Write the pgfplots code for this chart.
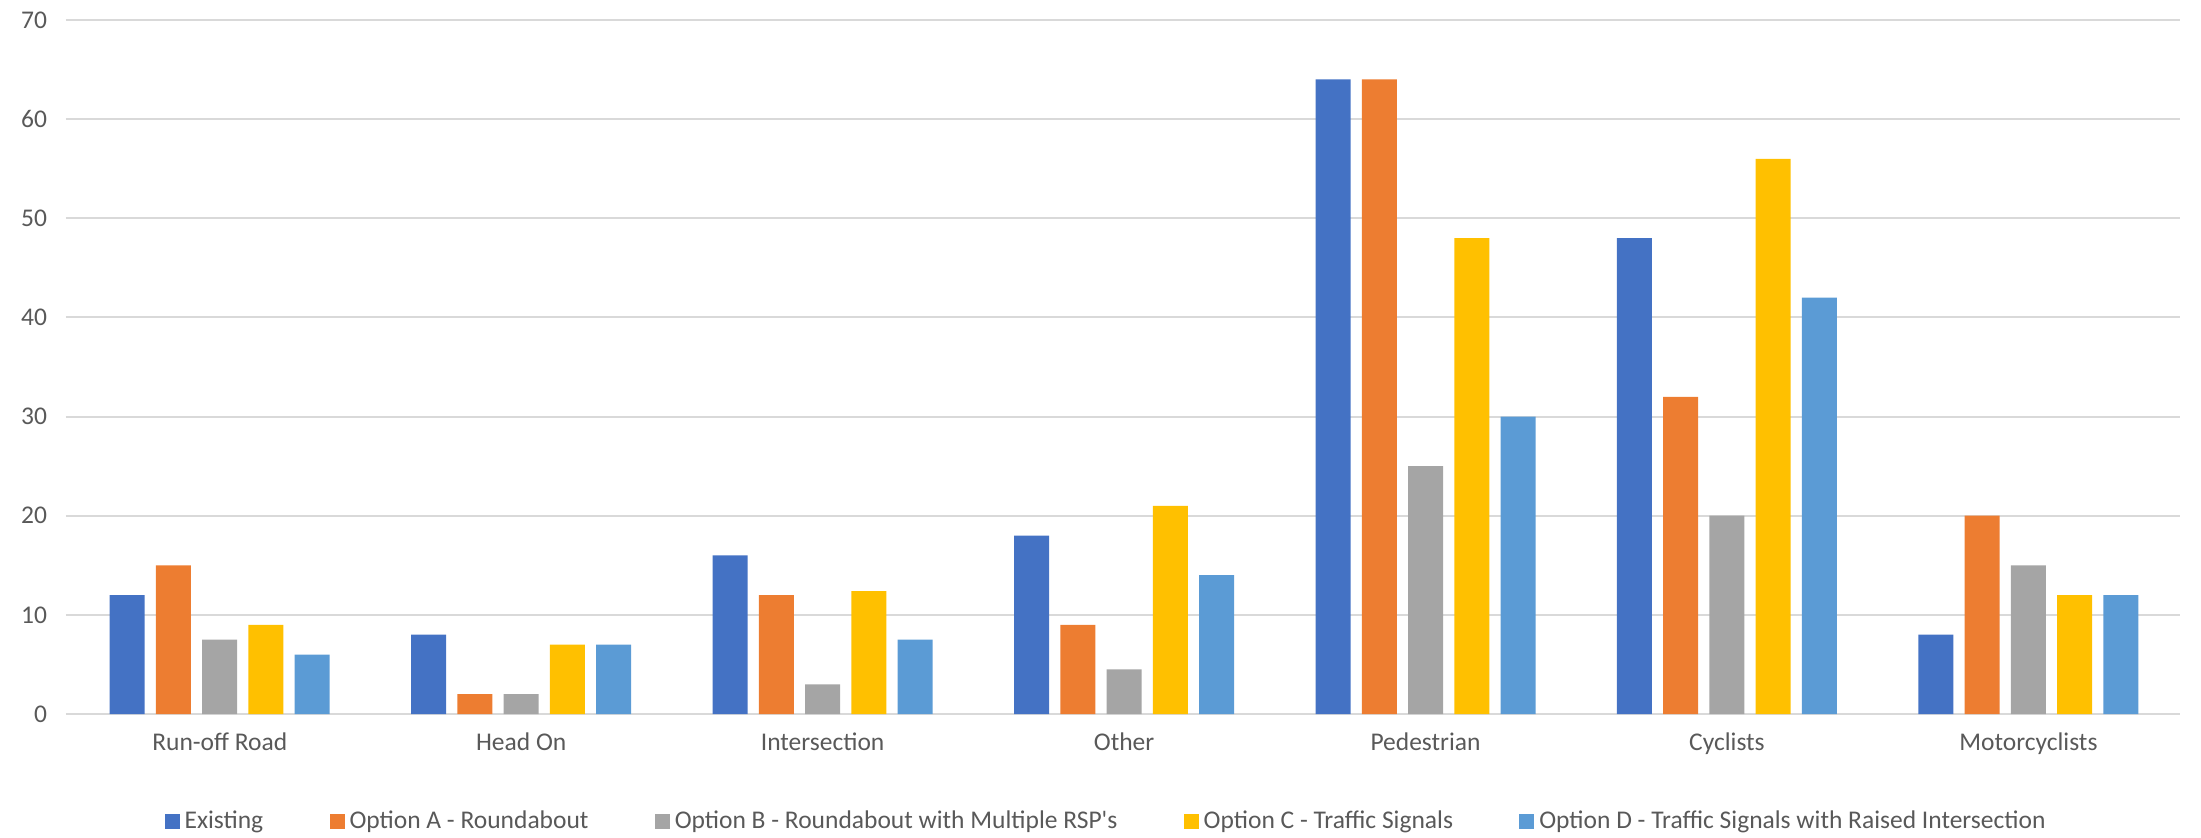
\documentclass[border=0pt]{standalone}
\usepackage{pgfplots}
\pgfplotsset{compat=1.18}
\usepackage{fontspec}
\setmainfont{Carlito}
\definecolor{cA}{HTML}{4472C4}
\definecolor{cB}{HTML}{ED7D31}
\definecolor{cC}{HTML}{A5A5A5}
\definecolor{cD}{HTML}{FFC000}
\definecolor{cE}{HTML}{5B9BD5}
\definecolor{txt}{HTML}{595959}
\definecolor{grd}{HTML}{D9D9D9}
\begin{document}
\fontsize{10.2pt}{12pt}\selectfont
\begin{tikzpicture}
\path[use as bounding box] (0,0) rectangle (880.4pt,334.8pt);
\begin{axis}[
  at={(26.4pt,49.2pt)}, anchor=south west,
  scale only axis, width=845.6pt, height=277.6pt,
  xmin=-0.51, xmax=6.503, ymin=0, ymax=70,
  ybar=4.5pt, bar width=14pt,
  xtick={0,...,6},
  xticklabels={Run-off Road,Head On,Intersection,Other,Pedestrian,Cyclists,Motorcyclists},
  ytick={0,10,...,70},
  ymajorgrids, grid style={grd, line width=0.8pt},
  axis line style={draw=none},
  major tick length=0pt,
  tick label style={txt, font=\fontsize{10.2pt}{12pt}\selectfont},
  /pgf/number format/assume math mode=true,
  yticklabel style={xshift=-4pt},
  xticklabel style={yshift=-4pt},
  legend style={draw=none, at={(0.4927,-0.1556)}, anchor=center,
    font=\fontsize{10.2pt}{12pt}\selectfont, text=txt,
    /tikz/every even column/.append style={column sep=24.5pt}},
  legend columns=5,
  legend image code/.code={\fill[#1] (0pt,-3pt) rectangle (6pt,3pt);},
]
\addplot[fill=cA, draw=none] coordinates {(0,12) (1,8) (2,16) (3,18) (4,64) (5,48) (6,8)};
\addplot[fill=cB, draw=none] coordinates {(0,15) (1,2) (2,12) (3,9) (4,64) (5,32) (6,20)};
\addplot[fill=cC, draw=none] coordinates {(0,7.5) (1,2) (2,3) (3,4.5) (4,25) (5,20) (6,15)};
\addplot[fill=cD, draw=none] coordinates {(0,9) (1,7) (2,12.4) (3,21) (4,48) (5,56) (6,12)};
\addplot[fill=cE, draw=none] coordinates {(0,6) (1,7) (2,7.5) (3,14) (4,30) (5,42) (6,12)};
\legend{Existing, Option A - Roundabout, Option B - Roundabout with Multiple RSP\textquotesingle s, Option C - Traffic Signals, Option D - Traffic Signals with Raised Intersection}
\end{axis}
\end{tikzpicture}
\end{document}
